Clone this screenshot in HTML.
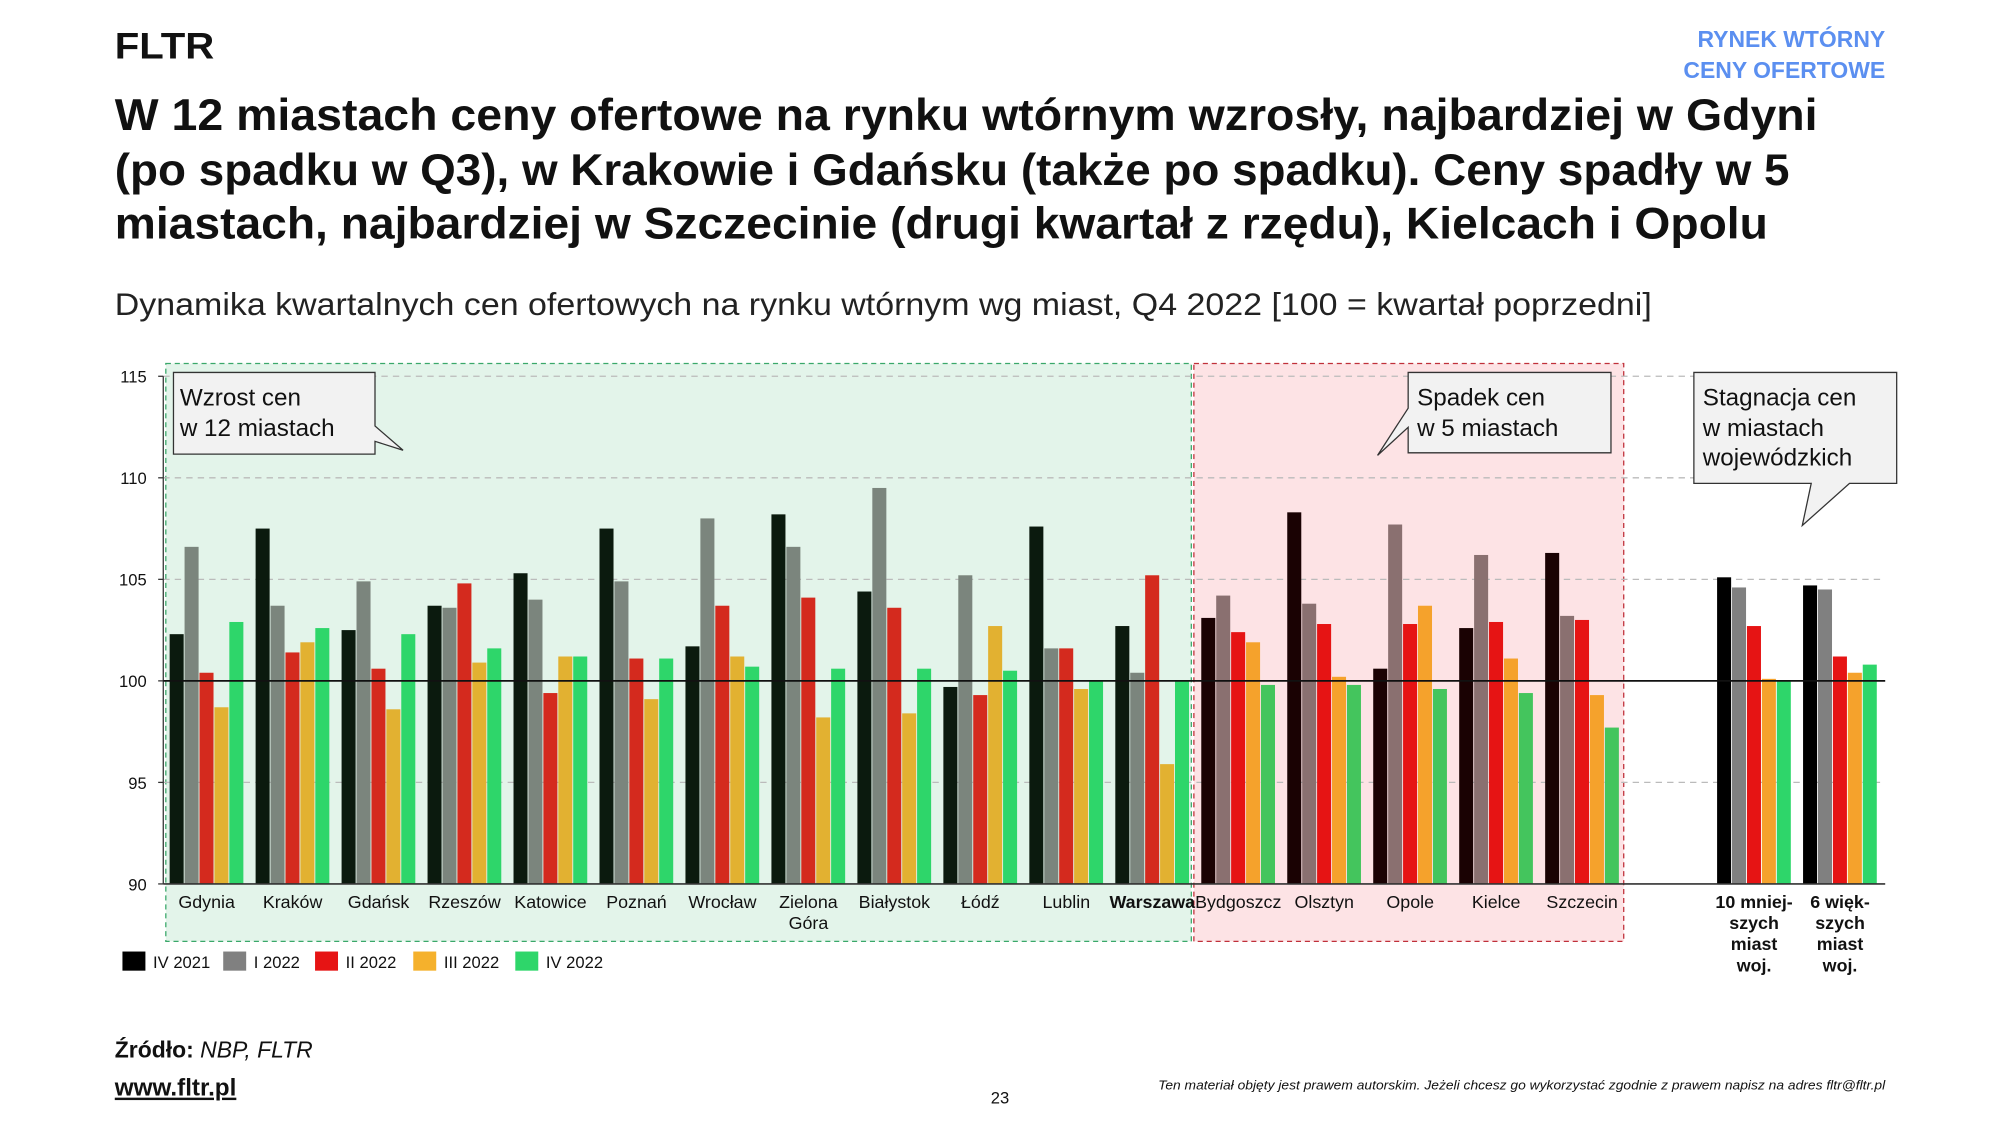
<!DOCTYPE html>
<html><head><meta charset="utf-8">
<style>
html,body{margin:0;padding:0;background:#fff;width:2000px;height:1125px;overflow:hidden}
svg{display:block}
text{font-family:"Liberation Sans",sans-serif}
</style></head>
<body>
<svg id="s" width="2000" height="1125" viewBox="0 0 1568 882" xmlns="http://www.w3.org/2000/svg">
<rect width="1568" height="882" fill="#fff"/>
<text x="90" y="46" font-size="29" font-weight="bold" fill="#111" textLength="78" lengthAdjust="spacingAndGlyphs">FLTR</text>
<text x="1478" y="37" font-size="18" font-weight="bold" fill="#5b8ff0" text-anchor="end">RYNEK WTÓRNY</text>
<text x="1478" y="61" font-size="18" font-weight="bold" fill="#5b8ff0" text-anchor="end">CENY OFERTOWE</text>
<g font-size="35" font-weight="bold" fill="#111">
<text x="90" y="102" textLength="1335" lengthAdjust="spacingAndGlyphs">W 12 miastach ceny ofertowe na rynku wtórnym wzrosły, najbardziej w Gdyni</text>
<text x="90" y="145" textLength="1313" lengthAdjust="spacingAndGlyphs">(po spadku w Q3), w Krakowie i Gdańsku (także po spadku). Ceny spadły w 5</text>
<text x="90" y="187" textLength="1296" lengthAdjust="spacingAndGlyphs">miastach, najbardziej w Szczecinie (drugi kwartał z rzędu), Kielcach i Opolu</text>
</g>
<text x="90" y="247" font-size="25" fill="#222" textLength="1205" lengthAdjust="spacingAndGlyphs">Dynamika kwartalnych cen ofertowych na rynku wtórnym wg miast, Q4 2022 [100 = kwartał poprzedni]</text>

<rect x="130" y="285" width="804" height="453" fill="#e3f4ea" stroke="#3aa86a" stroke-dasharray="4,3" stroke-width="1"/>
<rect x="936" y="285" width="337" height="453" fill="#fde3e5" stroke="#c0303a" stroke-dasharray="4,3" stroke-width="1"/>
<g id="grid"></g>
<g id="bars"></g>
<g id="labels" font-size="14" fill="#111" text-anchor="middle"></g>

<g stroke="#333" stroke-width="1" fill="#f2f2f2">
<path d="M136 292 H294 V334 L316 353 L294 346 V356 H136 Z"/>
<path d="M1104 292 H1263 V355 H1104 V335 L1080 357 L1104 320 Z"/>
<path d="M1328 292 H1487 V379 H1450 L1413 412 L1420 379 H1328 Z"/>
</g>
<g font-size="19" fill="#111">
<text x="141" y="318">Wzrost cen</text><text x="141" y="342">w 12 miastach</text>
<text x="1111" y="318">Spadek cen</text><text x="1111" y="342">w 5 miastach</text>
<text x="1335" y="318">Stagnacja cen</text><text x="1335" y="342">w miastach</text><text x="1335" y="365">wojewódzkich</text>
</g>

<g font-size="13" fill="#111">
<rect x="96" y="746" width="18" height="15" fill="#000"/><text x="120" y="759">IV 2021</text>
<rect x="175" y="746" width="18" height="15" fill="#808080"/><text x="199" y="759">I 2022</text>
<rect x="247" y="746" width="18" height="15" fill="#e61414"/><text x="271" y="759">II 2022</text>
<rect x="324" y="746" width="18" height="15" fill="#f5b12c"/><text x="348" y="759">III 2022</text>
<rect x="404" y="746" width="18" height="15" fill="#2ed66a"/><text x="428" y="759">IV 2022</text>
</g>

<text x="90" y="829" font-size="18" fill="#111"><tspan font-weight="bold">Źródło:</tspan><tspan font-style="italic"> NBP, FLTR</tspan></text>
<text x="90" y="859" font-size="19" font-weight="bold" fill="#111" text-decoration="underline">www.fltr.pl</text>
<text x="784" y="865" font-size="13" fill="#111" text-anchor="middle">23</text>
<text x="1478" y="854" font-size="10" font-style="italic" fill="#111" text-anchor="end" textLength="570" lengthAdjust="spacingAndGlyphs">Ten materiał objęty jest prawem autorskim. Jeżeli chcesz go wykorzystać zgodnie z prawem napisz na adres fltr@fltr.pl</text>
</svg>
<script>
var NS="http://www.w3.org/2000/svg";
function el(p,t,a,txt){var e=document.createElementNS(NS,t);for(var k in a)e.setAttribute(k,a[k]);if(txt!=null)e.textContent=txt;p.appendChild(e);return e;}
function Y(v){return 693-(v-90)*15.92;}
var g=document.getElementById("grid");
[115,110,105,95].forEach(function(v){el(g,"line",{x1:128,x2:1478,y1:Y(v),y2:Y(v),stroke:"#bbb","stroke-dasharray":"5,4","stroke-width":1});});
[115,110,105,100,95,90].forEach(function(v){el(g,"text",{x:115,y:Y(v)+5,"font-size":13,fill:"#111","text-anchor":"end"},String(v));el(g,"line",{x1:124,x2:128,y1:Y(v),y2:Y(v),stroke:"#333"});});
el(g,"line",{x1:128,x2:128,y1:Y(115),y2:693,stroke:"#333","stroke-width":1});
var data=[
["Gdynia",[102.3,106.6,100.4,98.7,102.9]],
["Kraków",[107.5,103.7,101.4,101.9,102.6]],
["Gdańsk",[102.5,104.9,100.6,98.6,102.3]],
["Rzeszów",[103.7,103.6,104.8,100.9,101.6]],
["Katowice",[105.3,104.0,99.4,101.2,101.2]],
["Poznań",[107.5,104.9,101.1,99.1,101.1]],
["Wrocław",[101.7,108.0,103.7,101.2,100.7]],
["Zielona|Góra",[108.2,106.6,104.1,98.2,100.6]],
["Białystok",[104.4,109.5,103.6,98.4,100.6]],
["Łódź",[99.7,105.2,99.3,102.7,100.5]],
["Lublin",[107.6,101.6,101.6,99.6,100.0]],
["*Warszawa",[102.7,100.4,105.2,95.9,100.0]],
["Bydgoszcz",[103.1,104.2,102.4,101.9,99.8]],
["Olsztyn",[108.3,103.8,102.8,100.2,99.8]],
["Opole",[100.6,107.7,102.8,103.7,99.6]],
["Kielce",[102.6,106.2,102.9,101.1,99.4]],
["Szczecin",[106.3,103.2,103.0,99.3,97.7]],
null,
["*10 mniej-|szych|miast|woj.",[105.1,104.6,102.7,100.1,100.0]],
["*6 więk-|szych|miast|woj.",[104.7,104.5,101.2,100.4,100.8]]];
var cG=["#0b1a0e","#7b857d","#d42a1e","#e2b131","#2ed66a"];
var cR=["#1a0203","#8a7070","#e61414","#f5a22c","#44c55d"];
var cS=["#000","#808080","#e61414","#f5a22c","#2ed66a"];
var b=document.getElementById("bars"),L=document.getElementById("labels");
data.forEach(function(d,i){if(!d)return;var cx=162+i*67.4;var cols=i<12?cG:(i<17?cR:cS);
d[1].forEach(function(v,j){var x=cx-29+j*11.7;var y=Y(v);var top=Math.min(y,693);el(b,"rect",{x:x,y:top,width:11,height:693-top,fill:cols[j]});});
var name=d[0],bold=false;if(name[0]=="*"){bold=true;name=name.slice(1);}
name.split("|").forEach(function(s,k){var a={x:cx,y:712+k*16.5};if(bold)a["font-weight"]="bold";el(L,"text",a,s);});
});
el(b,"line",{x1:128,x2:1478,y1:Y(100),y2:Y(100),stroke:"#111","stroke-width":1.3});
el(b,"line",{x1:128,x2:1478,y1:693,y2:693,stroke:"#333","stroke-width":1.3});
</script>
</body></html>
